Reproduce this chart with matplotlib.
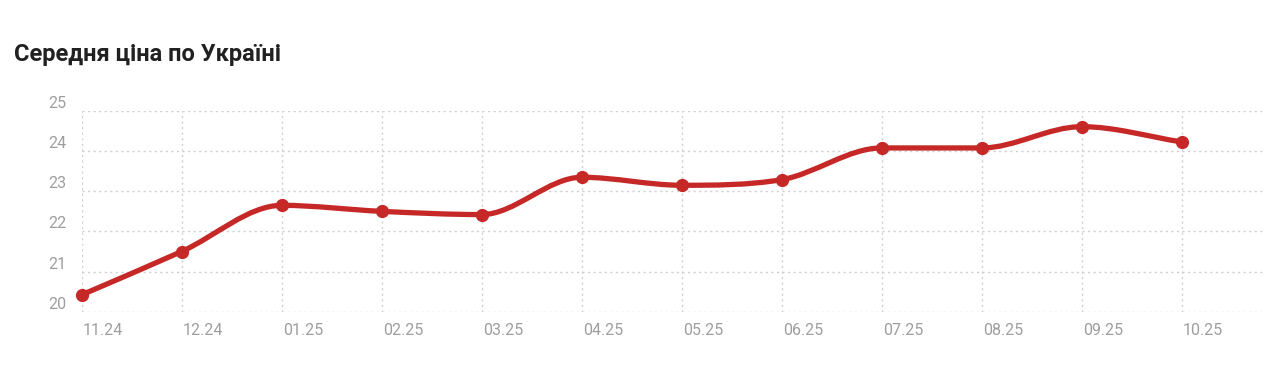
import matplotlib
matplotlib.use('Agg')
import matplotlib.pyplot as plt
import matplotlib.transforms as mtransforms
from matplotlib.path import Path
from matplotlib.patches import PathPatch
import numpy as np

# дані
months = ['11.24', '12.24', '01.25', '02.25', '03.25', '04.25',
          '05.25', '06.25', '07.25', '08.25', '09.25', '10.25']
prices = [20.42, 21.5, 22.65, 22.5, 22.42, 23.35,
          23.15, 23.29, 24.08, 24.08, 24.61, 24.23]
y_ticks = [20, 21, 22, 23, 24, 25]
title = 'Середня ціна по Україні'

line_color = '#c62828'
grid_color = '#cfcfcf'
label_color = '#9e9e9e'

plt.rcParams['font.family'] = ['Roboto', 'DejaVu Sans']

fig = plt.figure(figsize=(12.74, 3.82), dpi=100)
ax = fig.add_axes([0.0641, 0.184, 0.9273, 0.5254])

x = np.arange(len(prices), dtype=float)
y = np.array(prices, dtype=float)

# монотонна кубічна крива (як у Chart.js) -> кубічні криві Безьє
d = np.diff(y) / np.diff(x)
m = np.zeros_like(y)
m[0], m[-1] = d[0], d[-1]
for i in range(1, len(y) - 1):
    if d[i - 1] * d[i] <= 0:
        m[i] = 0
    else:
        m[i] = (d[i - 1] + d[i]) / 2
for i in range(len(d)):
    if d[i] == 0:
        m[i] = m[i + 1] = 0
    else:
        a, b = m[i] / d[i], m[i + 1] / d[i]
        s = a * a + b * b
        if s > 9:
            t = 3 / np.sqrt(s)
            m[i] = t * a * d[i]
            m[i + 1] = t * b * d[i]

verts = [(x[0], y[0])]
codes = [Path.MOVETO]
for i in range(len(y) - 1):
    h = (x[i + 1] - x[i]) / 3
    verts += [(x[i] + h, y[i] + m[i] * h),
              (x[i + 1] - h, y[i + 1] - m[i + 1] * h),
              (x[i + 1], y[i + 1])]
    codes += [Path.CURVE4] * 3
ax.add_patch(PathPatch(Path(verts, codes), facecolor='none', edgecolor=line_color,
                       lw=3.8, capstyle='round', joinstyle='round', zorder=3,
                       clip_on=False))
ax.plot(x, y, 'o', color=line_color, markersize=8.5, zorder=4, clip_on=False)

ax.set_xlim(0, 11.813)
ax.set_ylim(20, 25)
ax.set_xticks(x)
ax.set_xticklabels(months)
ax.set_yticks(y_ticks)
ax.grid(True, color=grid_color, linestyle=(0, (1.5, 2.5)), lw=1)
ax.set_axisbelow(True)
for s in ax.spines.values():
    s.set_visible(False)
ax.tick_params(axis='both', length=0, labelsize=11.5, labelcolor=label_color)
ax.tick_params(axis='x', pad=8)
ax.tick_params(axis='y', pad=11)

off_x = mtransforms.ScaledTranslation(1 / 100, 0, fig.dpi_scale_trans)
for lab in ax.get_xticklabels():
    lab.set_ha('left')
    lab.set_transform(lab.get_transform() + off_x)
off_y = mtransforms.ScaledTranslation(0, 9 / 100, fig.dpi_scale_trans)
for lab in ax.get_yticklabels():
    lab.set_transform(lab.get_transform() + off_y)

fig.text(14 / 1274, 1 - 55 / 382, title, fontsize=17, fontweight='bold',
         color='#212121', va='center', ha='left')

fig.savefig('out.png', dpi=100, facecolor='white')
